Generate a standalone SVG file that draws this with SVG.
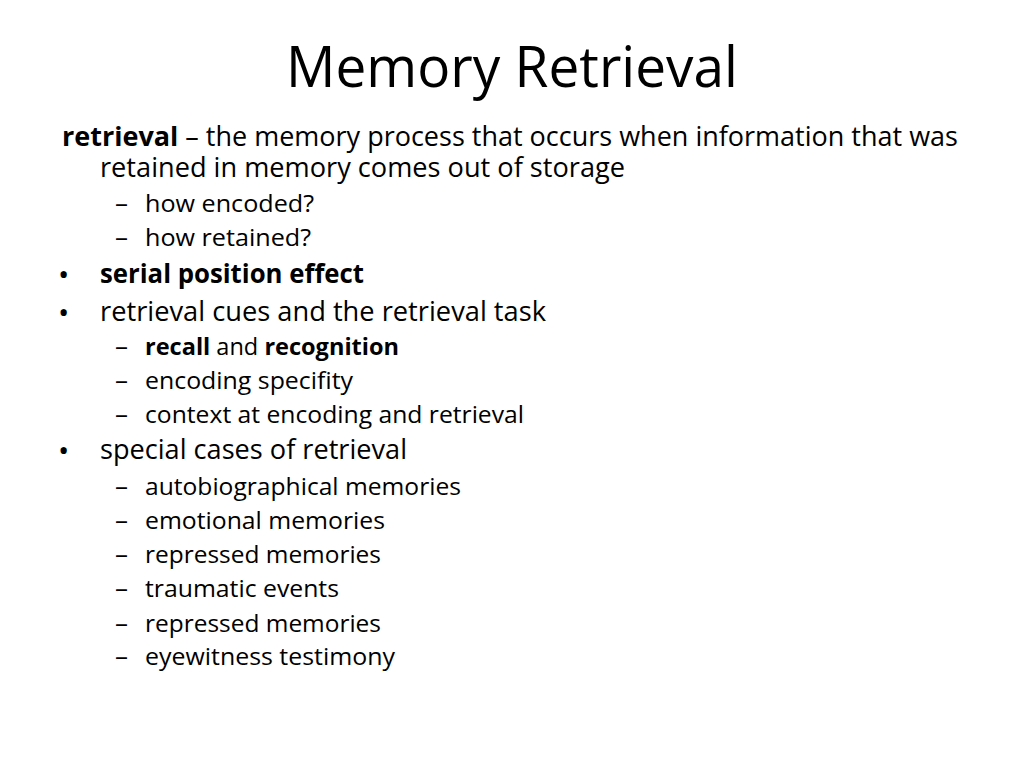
<svg xmlns="http://www.w3.org/2000/svg" width="1024" height="768" viewBox="0 0 1024 768">
<style>
text{font-family:"Open Sans","Liberation Sans",sans-serif;fill:#000}
.t{font-size:57px}
.l1{font-size:27.5px}
.l2{font-size:24px}
.b{font-weight:bold}
.bu{font-size:30px}
</style>
<rect width="1024" height="768" fill="#fff"/>
<g id="title"><text class="t" x="512" y="87" text-anchor="middle" textLength="452" lengthAdjust="spacingAndGlyphs">Memory Retrieval</text></g>
<g id="body">
<text class="l1" x="62" y="146" textLength="896" lengthAdjust="spacingAndGlyphs"><tspan class="b">retrieval</tspan> – the memory process that occurs when information that was</text>
<text class="l1" x="100" y="177" textLength="525" lengthAdjust="spacingAndGlyphs">retained in memory comes out of storage</text>
<text class="l2" x="115" y="212" textLength="13" lengthAdjust="spacingAndGlyphs">–</text><text class="l2" x="145" y="212" textLength="169" lengthAdjust="spacingAndGlyphs">how encoded?</text>
<text class="l2" x="115" y="246" textLength="13" lengthAdjust="spacingAndGlyphs">–</text><text class="l2" x="145" y="246" textLength="166" lengthAdjust="spacingAndGlyphs">how retained?</text>
<text class="bu" x="58" y="285">•</text><text class="l1 b" x="100" y="283" textLength="264" lengthAdjust="spacingAndGlyphs">serial position effect</text>
<text class="bu" x="58" y="323">•</text><text class="l1" x="100" y="321" textLength="446" lengthAdjust="spacingAndGlyphs">retrieval cues and the retrieval task</text>
<text class="l2" x="115" y="355" textLength="13" lengthAdjust="spacingAndGlyphs">–</text><text class="l2" x="145" y="355" textLength="254" lengthAdjust="spacingAndGlyphs"><tspan class="b">recall</tspan> and <tspan class="b">recognition</tspan></text>
<text class="l2" x="115" y="389" textLength="13" lengthAdjust="spacingAndGlyphs">–</text><text class="l2" x="145" y="389" textLength="208" lengthAdjust="spacingAndGlyphs">encoding specifity</text>
<text class="l2" x="115" y="423" textLength="13" lengthAdjust="spacingAndGlyphs">–</text><text class="l2" x="145" y="423" textLength="379" lengthAdjust="spacingAndGlyphs">context at encoding and retrieval</text>
<text class="bu" x="58" y="461">•</text><text class="l1" x="100" y="459" textLength="307" lengthAdjust="spacingAndGlyphs">special cases of retrieval</text>
<text class="l2" x="115" y="495" textLength="13" lengthAdjust="spacingAndGlyphs">–</text><text class="l2" x="145" y="495" textLength="316" lengthAdjust="spacingAndGlyphs">autobiographical memories</text>
<text class="l2" x="115" y="529" textLength="13" lengthAdjust="spacingAndGlyphs">–</text><text class="l2" x="145" y="529" textLength="240" lengthAdjust="spacingAndGlyphs">emotional memories</text>
<text class="l2" x="115" y="563" textLength="13" lengthAdjust="spacingAndGlyphs">–</text><text class="l2" x="145" y="563" textLength="236" lengthAdjust="spacingAndGlyphs">repressed memories</text>
<text class="l2" x="115" y="597" textLength="13" lengthAdjust="spacingAndGlyphs">–</text><text class="l2" x="145" y="597" textLength="194" lengthAdjust="spacingAndGlyphs">traumatic events</text>
<text class="l2" x="115" y="632" textLength="13" lengthAdjust="spacingAndGlyphs">–</text><text class="l2" x="145" y="632" textLength="236" lengthAdjust="spacingAndGlyphs">repressed memories</text>
<text class="l2" x="115" y="665" textLength="13" lengthAdjust="spacingAndGlyphs">–</text><text class="l2" x="145" y="665" textLength="250" lengthAdjust="spacingAndGlyphs">eyewitness testimony</text>
</g>
</svg>
